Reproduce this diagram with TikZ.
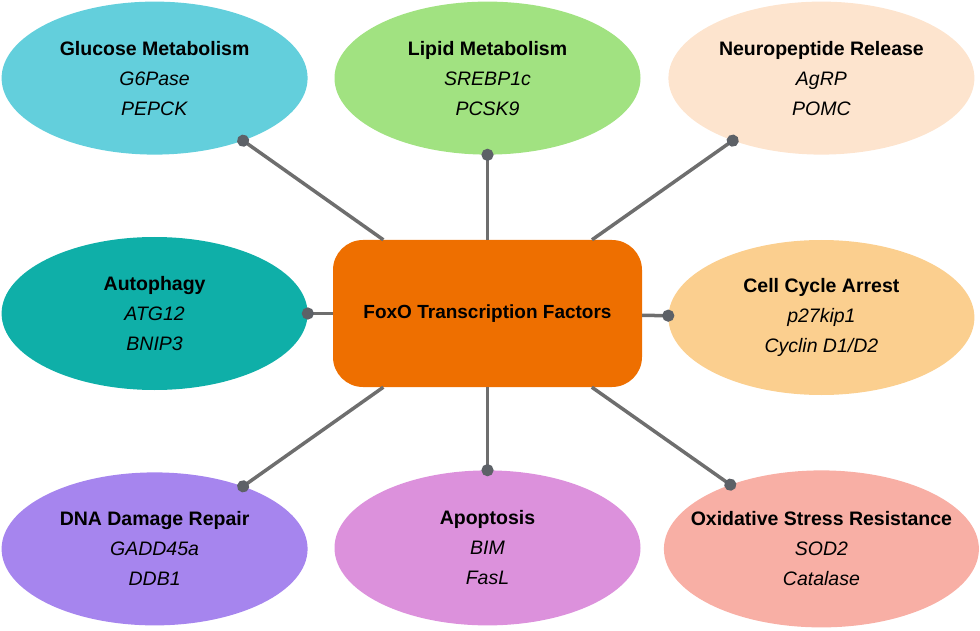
\documentclass[tikz,border=0pt]{standalone}
\usepackage{fontspec}
\setmainfont{Liberation Sans}
\usepackage{tikz}
\usetikzlibrary{arrows.meta, positioning, shapes.geometric}
\usepackage{xcolor}

\definecolor{foxocol}{HTML}{EE6F00}
\definecolor{glucol}{HTML}{63CFDC}
\definecolor{lipcol}{HTML}{A1E281}
\definecolor{neucol}{HTML}{FDE4CE}
\definecolor{autcol}{HTML}{0FAFA8}
\definecolor{cellcol}{HTML}{FBCF8F}
\definecolor{dnacol}{HTML}{A685EE}
\definecolor{apocol}{HTML}{DC91DC}
\definecolor{oxicol}{HTML}{F8AFA5}
\definecolor{linkgray}{HTML}{6E6E6E}
\definecolor{dotgray}{HTML}{5D6167}

\begin{document}
\begin{tikzpicture}[
    x = 1pt, y = -1pt,
    hub/.style = {
        rectangle, fill = foxocol, rounded corners = 30pt,
        minimum width = 309pt, minimum height = 147pt,
        font = \bfseries\fontsize{19}{30}\selectfont
    },
    pathway/.style = {
        ellipse, inner xsep = -50pt, inner ysep = 0pt,
        minimum width = 306pt, minimum height = 153pt,
        align = center,
        font = \fontsize{19.5}{30}\selectfont
    },
    link/.style = {
        draw = linkgray, line width = 3.5pt,
        -{Circle[length=12pt, width=12pt, color=dotgray]},
        shorten >= -6pt
    },
]
\useasboundingbox (0,0) rectangle (980,631);

%% ── Hub ──────────────────────────────────────────────────────────────────
\node[hub] (foxo) at (487.5,313.5) {FoxO Transcription Factors};

%% ── Pathways ─────────────────────────────────────────────────────────────
\node[pathway, fill = lipcol, above=85pt of foxo] (lipid)
    {\textbf{Lipid Metabolism}\\\textit{SREBP1c}\\\textit{PCSK9}};
\node[pathway, fill = apocol, minimum height = 155pt, below=83pt of foxo] (apop)
    {\textbf{Apoptosis}\\\textit{BIM}\\\textit{FasL}};
\node[pathway, fill = autcol, left=25pt of foxo] (autoph)
    {\textbf{Autophagy}\\\textit{ATG12}\\\textit{BNIP3}};
\node[pathway, fill = cellcol, minimum height = 155pt,
      right=26pt of foxo, yshift=-4pt] (cellcyc)
    {\textbf{Cell Cycle Arrest}\\\textit{p27kip1}\\\textit{Cyclin D1/D2}};

\node[pathway, fill = glucol, above=82pt of autoph] (glucose)
    {\textbf{Glucose Metabolism}\\\textit{G6Pase}\\\textit{PEPCK}};
\node[pathway, fill = dnacol, below=82pt of autoph] (dna)
    {\textbf{DNA Damage Repair}\\\textit{GADD45a}\\\textit{DDB1}};
\node[pathway, fill = neucol, above=85pt of cellcyc] (neuro)
    {\textbf{Neuropeptide Release}\\\textit{AgRP}\\\textit{POMC}};
\node[pathway, fill = oxicol, minimum width = 315pt, minimum height = 157pt,
      below=75pt of cellcyc] (oxid)
    {\textbf{Oxidative Stress Resistance}\\\textit{SOD2}\\\textit{Catalase}};

%% ── Links from the hub ───────────────────────────────────────────────────
\foreach \target in {glucose, lipid, neuro, autoph, cellcyc, dna, apop, oxid}
    \draw[link] (foxo) -- (\target);

\end{tikzpicture}
\end{document}
